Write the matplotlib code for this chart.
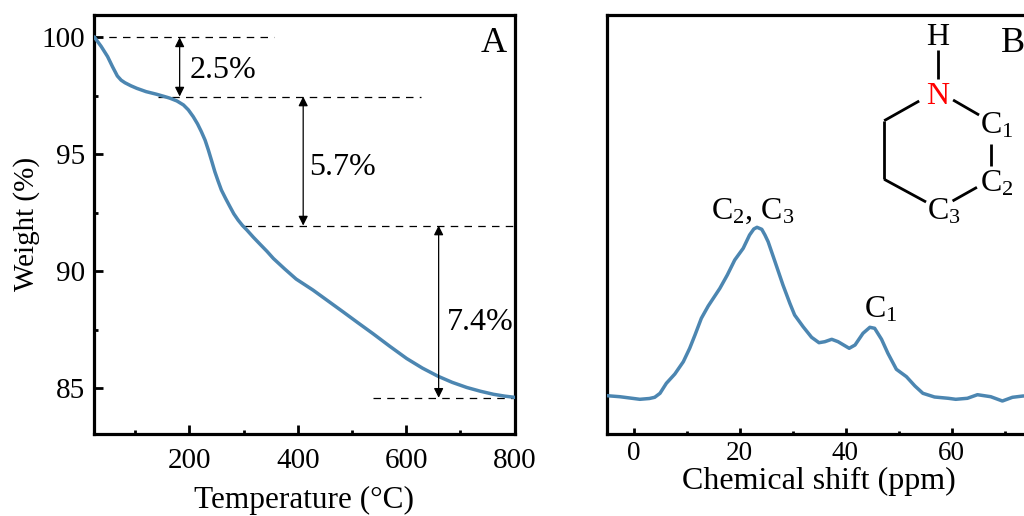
import numpy as np
import matplotlib
matplotlib.use("Agg")
import matplotlib.pyplot as plt
from matplotlib.ticker import MultipleLocator

plt.rcParams['font.family'] = ['Liberation Serif', 'DejaVu Serif']
plt.rcParams['mathtext.fontset'] = 'custom'
plt.rcParams['mathtext.rm'] = 'Liberation Serif'
plt.rcParams['mathtext.default'] = 'rm'

# TGA curve
temp = [25, 37, 49, 58, 67, 74, 81, 92, 103, 120, 139, 154, 164, 177, 189, 198, 207, 215, 222, 229, 235, 241, 247, 253, 259,
        267, 275, 282, 290, 298, 306, 318, 330, 343, 355, 376, 397, 428, 456, 484, 511, 539, 570, 601, 630, 659, 685,
        712, 737, 761, 782, 800]
weight = [100, 99.62, 99.18, 98.75, 98.35, 98.17, 98.06, 97.93, 97.82, 97.68, 97.57, 97.47, 97.4, 97.28, 97.11, 96.9,
          96.61, 96.3, 95.97, 95.6, 95.18, 94.72, 94.25, 93.85, 93.47, 93.1, 92.75, 92.45, 92.18, 91.95, 91.76, 91.45,
          91.16, 90.85, 90.54, 90.09, 89.66, 89.19, 88.72, 88.25, 87.79, 87.32, 86.78, 86.26, 85.85, 85.5, 85.24,
          85.02, 84.86, 84.73, 84.65, 84.6]

# NMR spectrum (arbitrary intensity)
shift = [-5, -2.6, 1.2, 3, 4, 5, 6.2, 7.8, 9.4, 10.6, 11.6, 12.8, 14.1, 16.3, 17.7, 19.1, 20.7, 21.9, 22.7, 23.3, 24.2, 24.8,
         25.4, 26.7, 28.2, 29.5, 30.4, 32, 33.6, 35, 36.1, 37.4, 38.6, 40.7, 41.8, 43.3, 44.6, 45.5, 46.8, 48, 49.6,
         51.5, 53.1, 54.6, 56.8, 59.4, 60.8, 63, 64.9, 67.4, 69.6, 71.5, 73.5, 75]
intensity = [38.3, 37.3, 34.7, 35.5, 36.7, 40.7, 50.7, 60, 72.3, 85.7, 99, 115.7, 128, 145.7, 159, 174, 185.7, 199, 205,
             206.7, 204.7, 199, 192.3, 172.3, 149, 130.7, 119, 107.3, 96.7, 91.3, 92.3, 94.7, 92.3, 85.7, 89, 100.7,
             106.7, 105.7, 94.7, 80.7, 64.7, 57.3, 48, 40.7, 37, 35.7, 34.7, 35.7, 39.3, 37.3, 33, 36.7, 38, 38]

# loss levels and their labels
levels = [100, 97.47, 91.95, 84.58]
dash_from = [25, 142, 300, 539]
dash_to = [357, 628, 800, 800]
arrow_x = [182, 410, 660]
loss_labels = ['2.5%', '5.7%', '7.4%']
loss_x = [201, 421, 675]
loss_y = [98.27, 94.1, 87.5]

# ring bonds, ppm / intensity units
bonds = [((57.4, 384), (57.4, 355)), ((53.9, 333), (47.3, 313.3)), ((47.3, 313.3), (47.3, 254.7)),
         ((47.3, 254.7), (55.2, 232)), ((60.3, 334), (65.2, 319)), ((67.4, 289.7), (67.4, 268.3)),
         ((60.2, 233), (64.8, 246.7))]

blue = '#4c86b1'

fig = plt.figure(figsize=(10.24, 5.16), dpi=100)
ax1 = fig.add_axes([93.5/1024, 1-434/516, 421/1024, 419.5/516])
ax2 = fig.add_axes([607/1024, 1-434/516, 424/1024, 419.5/516])

ax1.plot(temp, weight, color=blue, lw=2.5, solid_joinstyle='round', zorder=3)
ax1.set_xlim(23, 800)
ax1.set_ylim(83.03, 100.98)
ax1.xaxis.set_major_locator(MultipleLocator(200))
ax1.xaxis.set_minor_locator(MultipleLocator(100))
ax1.yaxis.set_major_locator(MultipleLocator(5))
ax1.yaxis.set_minor_locator(MultipleLocator(2.5))
ax1.tick_params(which='major', direction='in', length=6.5, width=2, labelsize=21, pad=10)
ax1.tick_params(which='minor', direction='in', length=3, width=2)
ax1.tick_params(axis='y', which='major', pad=6)
ax1.set_xlabel('Temperature (°C)', fontsize=22.5, labelpad=9)
ax1.set_ylabel('Weight (%)', fontsize=21, labelpad=1)

for lev, a, b in zip(levels, dash_from, dash_to):
    ax1.plot([a, b], [lev, lev], color='black', lw=0.9, dashes=(6, 5), zorder=2)
for i, x in enumerate(arrow_x):
    ax1.annotate('', xy=(x, levels[i+1]), xytext=(x, levels[i]),
                 arrowprops=dict(arrowstyle='<|-|>', color='black', lw=0.9, mutation_scale=14, shrinkA=0, shrinkB=0))
for x, y, s in zip(loss_x, loss_y, loss_labels):
    ax1.text(x, y, s, fontsize=23, ha='left', va='baseline')
ax1.text(786, 99.38, 'A', fontsize=26, ha='right', va='baseline')

ax2.plot(shift, intensity, color=blue, lw=2.5, solid_joinstyle='round', zorder=3)
ax2.set_xlim(-5, 75)
ax2.set_ylim(0, 419.5)
ax2.set_yticks([])
ax2.xaxis.set_major_locator(MultipleLocator(20))
ax2.xaxis.set_minor_locator(MultipleLocator(10))
ax2.tick_params(which='major', direction='in', length=4.5, width=2, labelsize=19.5, pad=5)
ax2.tick_params(which='minor', direction='in', length=2.5, width=2)
ax2.set_xlabel('Chemical shift (ppm)', fontsize=23, labelpad=0.5)

for p, q in bonds:
    ax2.plot([p[0], q[0]], [p[1], q[1]], color='black', lw=2, solid_capstyle='butt')
ax2.text(57.3, 389, 'H', fontsize=23, ha='center', va='baseline')
ax2.text(57.3, 330, 'N', fontsize=23, ha='center', va='baseline', color='red')
ax2.text(65.3, 301, 'C$_{1}$', fontsize=23, va='baseline')
ax2.text(65.3, 242, 'C$_{2}$', fontsize=23, va='baseline')
ax2.text(55.4, 214, 'C$_{3}$', fontsize=23, va='baseline')
ax2.text(14.6, 215, 'C$_{2}$, C$_{3}$', fontsize=23, va='baseline')
ax2.text(43.4, 116, 'C$_{1}$', fontsize=23, va='baseline')
ax2.text(69.4, 382, 'B', fontsize=26, va='baseline')

for ax in (ax1, ax2):
    for sp in ax.spines.values():
        sp.set_linewidth(2.3)

fig.savefig('out.png', dpi=100)
